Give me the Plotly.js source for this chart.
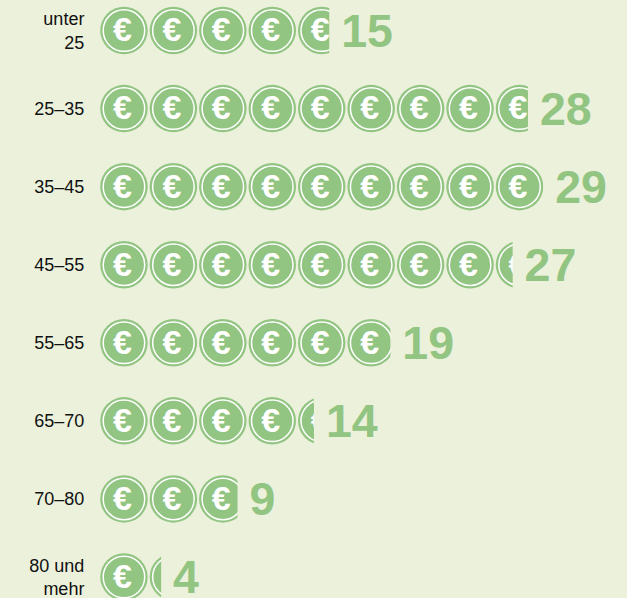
<!DOCTYPE html>
<html>
<head>
<meta charset="utf-8">
<script src="https://cdn.plot.ly/plotly-3.0.1.min.js"></script>
<style>html,body{margin:0;padding:0;background:#ecf1dc;overflow:hidden}</style>
</head>
<body>
<div id="chart" style="width:627px;height:598px"></div>
<script>
const ageGroups = ["unter<br>25","25–35","35–45","45–55","55–65","65–70","70–80","80 und<br>mehr"];
const values = [15,28,29,27,19,14,9,4];
const unitsPerCoin = 3.235;

const BG = "#ecf1dc", GREEN = "#92c482";
const rows = values.map((_, i) => i);
const coinX = [], coinY = [];
values.forEach((v, i) => {
  const n = Math.ceil(v / unitsPerCoin);
  for (let k = 0; k < n; k++) { coinX.push((k + 0.5) * unitsPerCoin - 0.05); coinY.push(i); }
});

const xRange = [0, 34.48], yRange = [7.269, -0.391];

const traces = [
  { type:"scatter", mode:"markers", x:coinX, y:coinY, xaxis:"x", yaxis:"y", cliponaxis:false, hoverinfo:"skip",
    marker:{symbol:"circle", size:47.5, color:GREEN, line:{width:0}} },
  { type:"scatter", mode:"markers", x:coinX, y:coinY, xaxis:"x", yaxis:"y", cliponaxis:false, hoverinfo:"skip",
    marker:{symbol:"circle", size:41.5, color:GREEN, line:{width:1.5, color:"#ffffff"}} },
  { type:"scatter", mode:"text", x:coinX.map(x => x - 0.1), y:coinY.map(y => y + 0.03), xaxis:"x", yaxis:"y", cliponaxis:false, hoverinfo:"skip",
    text:coinX.map(() => "€"), textposition:"middle center",
    textfont:{family:"Liberation Sans, Arial, sans-serif", size:34, color:"#ffffff", weight:700} },
  { type:"bar", orientation:"h", base:values, x:values.map(() => unitsPerCoin), y:rows, width:0.72,
    xaxis:"x2", yaxis:"y2", hoverinfo:"skip", marker:{color:BG, line:{width:0}} },
  { type:"scatter", mode:"text", x:values.map(v => v + 0.78), y:rows.map(r => r + 0.06), xaxis:"x2", yaxis:"y2", cliponaxis:false, hoverinfo:"skip",
    text:values.map(String), textposition:"middle right",
    textfont:{family:"Liberation Sans, Arial, sans-serif", size:46.5, color:GREEN, weight:700} }
];

const layout = {
  width:627, height:598, showlegend:false,
  paper_bgcolor:BG, plot_bgcolor:BG,
  margin:{l:99.5, r:0, t:0, b:0, pad:0},
  xaxis:{range:xRange, visible:false, fixedrange:true},
  yaxis:{range:yRange, tickmode:"array", tickvals:rows, ticktext:ageGroups,
    showgrid:false, zeroline:false, showline:false, ticklabeloverflow:"allow",
    ticks:"outside", ticklen:11, tickcolor:BG, tickwidth:1,
    tickfont:{family:"Liberation Sans, Arial, sans-serif", size:18, color:"#111111"}, fixedrange:true},
  xaxis2:{range:xRange, overlaying:"x", visible:false, fixedrange:true},
  yaxis2:{range:yRange, overlaying:"y", visible:false, fixedrange:true}
};

Plotly.newPlot("chart", traces, layout, {displayModeBar:false, staticPlot:true});
</script>
</body>
</html>
